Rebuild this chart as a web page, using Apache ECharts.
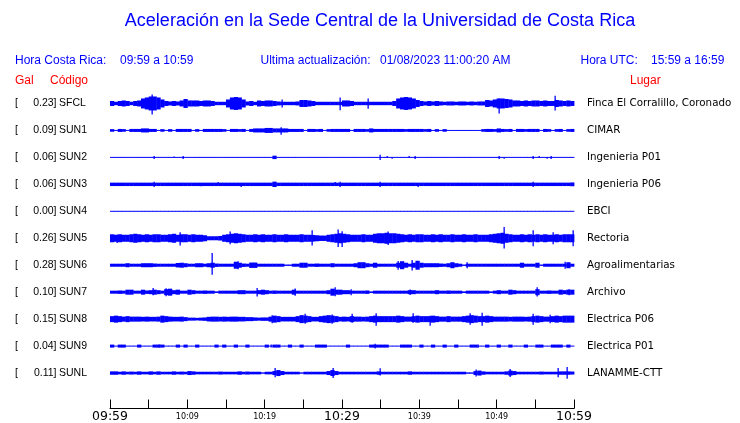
<!DOCTYPE html>
<html><head><meta charset="utf-8">
<script src="https://cdn.jsdelivr.net/npm/echarts@6/dist/echarts.min.js"></script>
<style>html,body{margin:0;padding:0;background:#fff}#c{width:740px;height:423px}</style>
</head><body><div id="c"></div>
<script>
// ---------- data ----------
const codes = ['SFCL','SUN1','SUN2','SUN3','SUN4','SUN5','SUN6','SUN7','SUN8','SUN9','SUNL'];
const galValues = ['0.23','0.09','0.06','0.06','0.00','0.26','0.28','0.10','0.15','0.04','0.11'];
const places = ['Finca El Corralillo, Coronado','CIMAR','Ingenieria P01','Ingenieria P06','EBCI','Rectoria','Agroalimentarias','Archivo','Electrica P06','Electrica P01','LANAMME-CTT'];
const timeLabels = ['09:59','10:09','10:19','10:29','10:39','10:49','10:59'];
const majorLabels = ['09:59','10:29','10:59'];

// half-amplitude envelope of each trace, one value per half minute (120 per hour)
const envSFCL = [
2.5,1.7,2.5,3,2.5,1.7,2.5,3,5,6,
7,7,6,4,2.5,2,2.5,2,3,4.5,
3,3,3,2.5,3,3,2.5,1.7,1.7,1.7,
4,6,6.5,6,4,2,2.5,1.7,3,2.5,
3,3,2.5,2,1.7,1.7,1.7,1.7,2,3.5,
3.5,3,2.5,1.7,1.7,1.7,1.7,1.7,1.7,1.7,
3,3,2.5,1.7,1.7,1.7,1.7,1.7,1.7,1.7,
1.7,1.7,1.7,2.5,5,6,6.5,6,5,3.5,
2.5,2,2.5,2,2.5,2,1.7,2,2,1.7,
2,2,1.7,2,1.7,2,2,3.5,3,4,
5,5,4.5,4,3,3,2.5,3,2.5,3,
3,2.5,3,2.5,2.5,3.5,3,2.5,3,2.5];
const envSUN1 = [
1.3,0.5,1.5,1.3,0.5,1.5,1.5,1.5,2,2,
1.5,1.5,0.5,1.3,0.5,1.3,0.5,1.5,1.5,1.5,
1.5,0.5,1.3,0.5,1.5,1.5,1.5,1.5,1.5,1.3,
0.5,1.5,1.5,1.3,1.5,0.5,1.5,2,2,2,
2.5,2.5,2,2,2,2,1.5,1.5,1.5,1.5,
0.5,1.5,1.5,1.3,1.5,0.5,1.3,1.5,1.5,1.5,
1.5,1.5,0.5,1.5,1.5,1.5,1.3,2,1.5,1.5,
1.5,1.5,1.5,1.5,1.5,1.5,1.3,1.5,1.5,1.5,
1.5,1.3,1.5,0.5,1.3,0.5,1.3,0.5,0.5,0.5,
0.5,0.5,0.5,0.5,0.5,0.5,1.3,1.5,1.5,1.3,
2,1.5,1.3,1.5,0.5,1.5,1.5,1.3,1.5,1.5,
1.5,0.5,1.5,1.3,0.5,1.3,1.5,0.5,1.3,1.5];
const envSUN2 = [
0.5,0.5,0.5,0.5,0.5,0.5,0.5,0.5,0.5,0.5,
0.5,0.5,0.5,0.5,0.5,0.5,0.5,0.5,0.5,0.5,
0.5,0.5,0.5,0.5,0.5,0.5,0.5,0.5,0.5,0.5,
0.5,0.5,0.5,0.5,0.5,0.5,0.5,0.5,0.5,0.5,
0.5,0.5,1.7,0.5,0.5,0.5,0.5,0.5,0.5,0.5,
0.5,0.5,0.5,0.5,0.5,0.5,0.5,0.5,0.5,0.5,
0.5,0.5,0.5,0.5,0.5,0.5,0.5,0.5,0.5,0.5,
0.5,0.5,0.5,0.5,0.5,0.5,0.5,0.5,0.5,0.5,
0.5,0.5,0.5,0.5,0.5,0.5,0.5,0.5,0.5,0.5,
0.5,0.5,0.5,0.5,0.5,0.5,0.5,0.5,0.5,0.5,
0.5,0.5,0.5,0.5,0.5,0.5,0.5,0.5,0.5,0.5,
0.5,0.5,0.5,0.5,0.5,0.5,0.5,0.5,0.5,0.5];
const envSUN3 = [
1.7,1.7,1.7,1.7,1.7,1.7,1.7,1.7,1.7,1.7,
1.7,1.7,1.7,1.7,1.7,1.7,1.7,1.7,1.7,1.7,
1.7,1.7,1.7,1.7,1.7,1.7,1.7,1.7,1.7,1.7,
1.7,1.7,1.7,1.7,1.7,1.7,1.7,1.7,1.7,1.7,
1.7,1.7,2.7,1.7,1.7,1.7,1.7,1.7,1.7,1.7,
1.7,1.7,1.7,1.7,1.7,1.7,1.7,1.7,1.7,1.7,
1.7,1.7,1.7,1.7,1.7,1.7,1.7,1.7,1.7,1.7,
1.7,1.7,1.7,1.7,1.7,1.7,1.7,1.7,1.7,1.7,
1.7,1.7,1.7,1.7,1.7,1.7,1.7,1.7,1.7,1.7,
1.7,1.7,1.7,1.7,1.7,1.7,1.7,1.7,1.7,1.7,
1.7,1.7,1.7,1.7,1.7,1.7,1.7,1.7,1.7,1.7,
1.7,1.7,1.7,1.7,1.7,1.7,1.7,1.7,1.7,1.9];
const envSUN4 = [
0.5,0.5,0.5,0.5,0.5,0.5,0.5,0.5,0.5,0.5,
0.5,0.5,0.5,0.5,0.5,0.5,0.5,0.5,0.5,0.5,
0.5,0.5,0.5,0.5,0.5,0.5,0.5,0.5,0.5,0.5,
0.5,0.5,0.5,0.5,0.5,0.5,0.5,0.5,0.5,0.5,
0.5,0.5,0.5,0.5,0.5,0.5,0.5,0.5,0.5,0.5,
0.5,0.5,0.5,0.5,0.5,0.5,0.5,0.5,0.5,0.5,
0.5,0.5,0.5,0.5,0.5,0.5,0.5,0.5,0.5,0.5,
0.5,0.5,0.5,0.5,0.5,0.5,0.5,0.5,0.5,0.5,
0.5,0.5,0.5,0.5,0.5,0.5,0.5,0.5,0.5,0.5,
0.5,0.5,0.5,0.5,0.5,0.5,0.5,0.5,0.5,0.5,
0.5,0.5,0.5,0.5,0.5,0.5,0.5,0.5,0.5,0.5,
0.5,0.5,0.5,0.5,0.5,0.5,0.5,0.5,0.5,0.5];
const envSUN5 = [
4,3.5,4,3.5,3.5,4,4.5,4,3.5,4,
3.5,4,4,3.5,3.5,4,4.5,3.5,4,4,
3.5,4,3.5,3.5,3,2,2,2,2.3,3.5,
4,4.5,5,4.5,4,3.5,3.5,4,3.5,4,
3.5,3.5,4,3.5,3.5,4,3.5,3.5,3.5,4,
3.5,3.5,3.3,3,2.7,2.7,3.5,4,4.5,5,
4.5,4,3.5,3.5,3.5,4,3.5,3.5,4.5,5,
5,5.5,5,5,4.5,4,3.5,4,3.5,4,
4,3.5,3.5,4,3.5,4,3.5,3.5,4,3.5,
3.5,4,3.5,3.5,4,3.5,3.5,3.5,4,4.5,
5,5.5,4.5,4,3.5,3.5,4,3.5,4,3.5,
4,3.5,4,3.5,3.5,4,3.5,4,4,4];
const envSUN6 = [
1.5,1.5,1.5,1.5,2,1.5,1.5,1.5,2,2,
2,1.7,1.5,1.5,1.5,1.5,1.5,2.2,2.5,2,
1.5,1.5,2,2,1.5,2,2.5,1.7,1.5,1.5,
1.5,1.5,3.5,2.5,1.7,1.5,2.7,2.7,1.5,1.5,
1.5,1.5,1.5,1.5,1.5,0.7,0.7,1.5,1.5,2.5,
2.5,1.5,1.5,1.7,1.5,1.5,1.5,2,1.5,1.5,
1.5,1.5,1.5,2,3,3,2,1.5,2.5,1.5,
1.5,1.5,1.5,1.5,2.5,4,2.5,1.5,2.5,4.5,
2.5,2,2,2,2,1.7,1.5,2,3,2,
1.5,0.7,1.5,1.5,1.5,1.5,1.5,1.5,1.5,1.5,
1.5,1.5,1.5,1.5,1.5,1.5,2.5,1.5,1.5,1.5,
2.5,0.7,1.5,1.5,1.5,1.5,1.5,1.5,3,1.5];
const envSUN7 = [
1.5,1.5,1.7,1.5,2.5,2.5,1.5,1.5,2.5,1.7,
2,2.5,2,1.5,3,3.5,2,2.5,1.5,1.5,
2.5,2,1.5,1.5,1.7,1.5,1.5,0.8,1.5,1.5,
1.5,1.5,1.5,2,2,1.5,1.5,1.5,2,2.5,
2,1.5,1.7,1.5,1.5,1.5,1.5,2.5,1.5,1.5,
1.5,1.5,1.5,1.5,1.5,1.5,2,3.5,2.5,2.5,
2,2,1.5,1.5,1.5,1.5,1.7,0.8,1.5,1.5,
1.5,1.5,1.5,1.5,1.5,1.5,1.5,2,2,1.5,
1.5,1.5,1.5,1.5,2,1.5,1.5,1.7,1.5,1.5,
1.5,0.8,1.5,1.5,1.5,1.5,1.5,1.5,0.8,1.5,
2,1.5,1.5,2.5,2,1.5,1.5,1.5,1.5,1.5,
3,1.5,1.5,1.7,1.5,1.5,2.5,2,2.5,2.5];
const envSUN8 = [
3,3.5,3,2.5,3,2.5,2.5,2.5,2.3,2.5,
2.3,2.3,2.5,3.5,3,2.5,2.3,2.3,2.5,2,
1.5,1.5,1.3,1.5,1.7,2.3,2.5,2.5,2.3,2.5,
2.3,2.5,2.5,2.3,2.3,2,2,1.7,1.5,1.7,
1.7,2.5,3.5,3,2.3,2.3,2.3,2.3,3,4,
3.5,3,2.3,2.3,3,3.5,4,3.5,3,2.3,
2.5,2.3,3,2.5,2.5,2.3,2.5,3,3.5,3,
3,3,3,3,3.5,3,2.5,2.5,3,3.5,
3,3,3,3.5,3,2.5,2.5,3,2.5,2.5,
2.5,3,3.5,4,3.5,3,3,3.5,3,2.5,
2.5,2.5,2.5,2.3,2.5,2.5,2.5,2.3,2.5,3,
3.5,3,2.5,2.5,3,3.5,3,3.5,3.5,3.5];
const envSUN9 = [
1.5,0.5,1.5,1.5,0.5,0.5,0.5,1.5,0.5,0.5,
0.5,1.5,1.5,1.5,0.5,0.5,0.5,1.5,0.5,1.5,
0.5,0.5,1.5,0.5,0.5,0.5,0.5,1.5,0.5,1.5,
0.5,0.5,1.5,0.5,0.5,1.5,0.5,0.5,0.5,0.5,
1.5,0.5,1.5,1.5,0.5,0.5,1.5,0.5,0.5,1.5,
0.5,0.5,0.5,1.5,1.5,1.5,0.5,0.5,0.5,0.5,
0.5,1.5,0.5,0.5,0.5,0.5,0.5,1.5,1.5,1.5,
1.5,1.5,0.5,0.5,0.5,1.5,1.5,1.5,0.5,0.5,
1.5,0.5,0.5,1.5,0.5,0.5,1.5,0.5,0.5,1.5,
0.5,0.5,0.5,1.5,1.5,0.5,0.5,1.5,0.5,0.5,
1.5,0.5,0.5,1.5,0.5,0.5,0.5,1.5,0.5,0.5,
1.5,1.5,0.5,0.5,1.5,1.5,1.5,0.5,1.5,0.5];
const envSUNL = [
1.7,1.7,1.3,1.7,1.3,1.5,1.3,1.7,1.3,1.3,
1.7,1.3,1.7,1.3,1.3,1.3,1.7,1.3,1.5,1.3,
2,1.7,1.3,1.3,1.3,1.3,1.3,1.3,1.5,1.3,
1.3,1.3,1.3,1.7,1.3,1.5,1.3,1.3,1.3,0.7,
1.3,1.3,2,3,2,1.3,1.3,1.3,1.3,0.7,
1.3,1.3,1.3,1.3,1.3,1.3,2,3,2,1.3,
1.3,1.3,1.3,1.3,1.3,1.3,1.3,1.3,1.3,1.7,
1.3,1.3,1.3,1.3,1.3,1.3,1.3,1.7,1.3,1.3,
1.3,1.3,1.3,1.3,1.3,1.3,1.3,1.3,1.3,1.3,
1.3,1.3,0.7,0.7,2,2.5,1.7,1.3,1.3,1.3,
1.3,1.3,1.7,2.5,2,1.3,1.3,1.3,1.3,1.3,
1.3,1.5,1.3,1.3,1.3,1.3,1.7,1.7,1.7,1.5];

// isolated spikes: [minute after 09:59, up, down]
const spikesSFCL = [[5.39,9,11],[22.2,4,4],[29.75,6,6.7],[33.4,5,5.3],[50.35,5,10],[57.55,7.7,7]];
const spikesSUN1 = [[22.15,3.3,4.3]];
const spikesSUN2 = [[5.73,1.5,1.5],[8.32,1,0],[9.4,1.5,1.5],[34.96,2.7,2.7],[35.78,1.3,0],[36.42,0,1.3],[38.71,1.3,0],[39.48,1.5,1.5],[50.34,1.5,1.5],[50.99,0,1.3],[54.66,1.5,1.5],[55.52,1.3,0],[56.55,0,1.3],[57.07,1.5,1.5]];
const spikesSUN3 = [[5.73,2.7,2.7],[11.72,0,2],[14.0,2.3,0],[16.98,0,2.7],[29.1,2.3,0],[29.74,2.7,2.7],[34.96,2.7,2.7],[39.87,0,2.7],[54.66,2.7,2.7]];
const spikesSUN4 = [];
const spikesSUN5 = [[0.86,3.5,4.7],[9.05,6,7.3],[15.5,6.7,6],[26.16,8,7.3],[29.5,8.7,8.7],[30.04,7,8.7],[36,6.7,6.7],[51,11.3,10.3],[54.66,8,8],[57.33,6,6],[59.9,8,8]];
const spikesSUN6 = [[13.23,12.2,9.5],[16.5,4,4],[37.28,4.3,4.5],[39,5.3,5.3],[46.12,3,3],[58.8,3.5,3.5]];
const spikesSUN7 = [[5.52,4.3,3],[7.2,4,4],[18.97,4.3,4.3],[23.92,3.7,3.7],[29.1,5,4],[31.2,3,3],[38.8,2.7,2.7],[55.2,5,4.3],[59.3,3,3]];
const spikesSUN8 = [[20.95,4,4],[25.2,5.3,4.7],[28.7,4.7,4.7],[31.3,5.3,3.5],[34.35,6,6.7],[39.2,6,3.5],[41.4,3.5,6.7],[46.6,6,5.7],[48.05,6.3,6.7],[54.75,5.5,5.7],[56.9,4.3,4]];
const spikesSUN9 = [[6.4,1.5,1.5],[20.8,1.5,1.5],[34.3,2.3,2.3],[47.6,1.7,1.7]];
const spikesSUNL = [[21.35,5,4.3],[28.9,5,5],[34.9,4.7,2.5],[47.3,3.5,3.5],[51.7,4,4],[57.9,5,4.3],[59.05,6,5.7]];

// ---------- layout ----------
const envs = [envSFCL,envSUN1,envSUN2,envSUN3,envSUN4,envSUN5,envSUN6,envSUN7,envSUN8,envSUN9,envSUNL];
const spikes = [spikesSFCL,spikesSUN1,spikesSUN2,spikesSUN3,spikesSUN4,spikesSUN5,spikesSUN6,spikesSUN7,spikesSUN8,spikesSUN9,spikesSUNL];
const BLUE = '#0000ff';
const SLOT = 0.5;
const GRID_TOP = 85, GRID_H = 324, ROW_GAP = 27, ROW0 = 18.5;
const rowCenter = i => ROW0 + ROW_GAP * i;

const slotData = [];
envs.forEach((arr, r) => arr.forEach((a, k) => slotData.push([k * SLOT, r, a])));
const spikeData = [];
spikes.forEach((arr, r) => arr.forEach(s => spikeData.push([s[0], r, s[1], s[2]])));

const chart = echarts.init(document.getElementById('c'), null, {renderer: 'canvas'});

const SANS = '"Liberation Sans", Arial, Helvetica, sans-serif';
const DJV = '"DejaVu Sans", sans-serif';
const graphics = [];
function txt(x, y, text, size, fill, family, align) {
  graphics.push({type: 'text', x: x, y: y, silent: true,
    style: {text: text, fill: fill, font: size + 'px ' + family, align: align || 'left', verticalAlign: 'middle'}});
}
txt(380, 21, 'Aceleración en la Sede Central de la Universidad de Costa Rica', 18, BLUE, SANS, 'center');
txt(15, 61, 'Hora Costa Rica:', 12, BLUE, SANS);
txt(120, 61, '09:59 a 10:59', 12, BLUE, SANS);
txt(260.5, 61, 'Ultima actualización:', 12, BLUE, SANS);
txt(380, 61, '01/08/2023 11:00:20 AM', 12, BLUE, SANS);
txt(580.5, 61, 'Hora UTC:', 12, BLUE, SANS);
txt(651, 61, '15:59 a 16:59', 12, BLUE, SANS);
txt(15, 81, 'Gal', 12, '#ff0000', SANS);
txt(50, 81, 'Código', 12, '#ff0000', SANS);
txt(630, 81, 'Lugar', 12, '#ff0000', SANS);
codes.forEach((c, i) => {
  const y = GRID_TOP + rowCenter(i);
  txt(15, y, '[', 10.5, '#000', SANS);
  txt(56.5, y, galValues[i] + ']', 10.5, '#000', SANS, 'right');
  txt(59, y, c, 10.5, '#000', SANS);
  txt(587, y, places[i], 10.3, '#000', DJV);
});

chart.setOption({
  animation: false,
  backgroundColor: '#fff',
  grid: {left: 110, width: 464, top: GRID_TOP, height: GRID_H, containLabel: false},
  xAxis: {
    type: 'value', min: 0, max: 60, interval: 5, position: 'bottom',
    axisLine: {show: true, onZero: false, lineStyle: {color: '#000', width: 1}},
    axisTick: {show: true, inside: true, length: 9, lineStyle: {color: '#000', width: 1}},
    splitLine: {show: false},
    axisLabel: {
      margin: 1, showMinLabel: true, showMaxLabel: true, hideOverlap: false,
      formatter: v => {
        if (v % 10 !== 0) return '';
        const lab = timeLabels[v / 10];
        return majorLabels.indexOf(lab) >= 0 ? '{big|' + lab + '}' : '{small|' + lab + '}';
      },
      rich: {
        big: {fontSize: 12.5, fontFamily: 'DejaVu Sans', color: '#000', lineHeight: 14},
        small: {fontSize: 8, fontFamily: 'DejaVu Sans', color: '#000', lineHeight: 14}
      }
    }
  },
  yAxis: {type: 'value', min: 0, max: GRID_H, inverse: true, show: false},
  graphic: graphics,
  series: [
    {
      type: 'custom', coordinateSystem: 'cartesian2d', data: slotData, silent: true,
      encode: {x: 0, y: 1},
      renderItem: (params, api) => {
        const t = api.value(0), r = api.value(1), a = api.value(2);
        const c = rowCenter(r);
        const p0 = api.coord([t, c - a]);
        const p1 = api.coord([t + SLOT, c + a]);
        return {type: 'rect', shape: {x: p0[0], y: p0[1], width: p1[0] - p0[0] + 0.4, height: p1[1] - p0[1]}, style: {fill: BLUE}};
      }
    },
    {
      type: 'custom', coordinateSystem: 'cartesian2d', data: spikeData, silent: true,
      encode: {x: 0, y: 1},
      renderItem: (params, api) => {
        const t = api.value(0), r = api.value(1), up = api.value(2), dn = api.value(3);
        const c = rowCenter(r);
        const p0 = api.coord([t, c - up]);
        const p1 = api.coord([t, c + dn]);
        return {type: 'rect', shape: {x: Math.round(p0[0]) - 0.5, y: p0[1], width: 1.3, height: p1[1] - p0[1]}, style: {fill: BLUE}};
      }
    }
  ]
});
</script>
</body></html>
